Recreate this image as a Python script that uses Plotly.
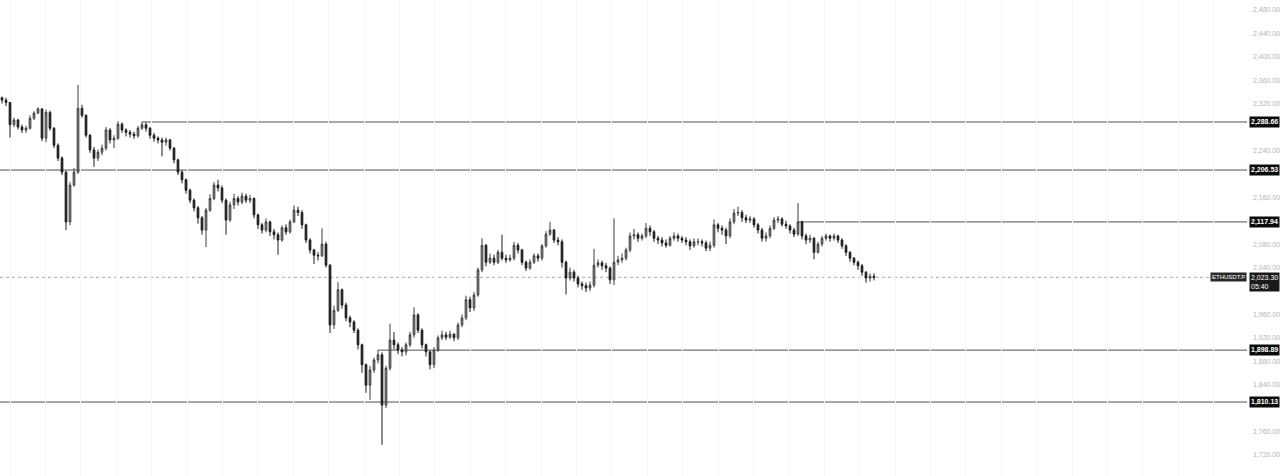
import plotly.graph_objects as go

# ---- data (ETHUSDT.P) ----
closes = [
    2326, 2322, 2284, 2292, 2280, 2275, 2278, 2295, 2304, 2311,
    2261, 2305, 2278, 2249, 2227, 2203, 2118, 2181, 2203, 2312,
    2300, 2266, 2241, 2227, 2237, 2244, 2275, 2258, 2261, 2285,
    2275, 2271, 2268, 2265, 2278, 2284, 2278, 2266, 2261, 2258,
    2254, 2258, 2244, 2224, 2203, 2190, 2172, 2155, 2142, 2125,
    2104, 2138, 2158, 2181, 2176, 2155, 2121, 2147, 2158, 2152,
    2162, 2155, 2158, 2130, 2113, 2104, 2118, 2101, 2096, 2087,
    2108, 2101, 2118, 2138, 2134, 2113, 2087, 2070, 2061, 2060,
    2080, 2044, 1942, 1967, 2002, 1976, 1954, 1947, 1933, 1908,
    1874, 1839, 1865, 1882, 1891, 1805, 1868, 1916, 1908, 1899,
    1896, 1908, 1925, 1959, 1933, 1908, 1896, 1874, 1899, 1920,
    1925, 1921, 1926, 1920, 1942, 1954, 1985, 1971, 1993, 2036,
    2078, 2049, 2056, 2049, 2066, 2056, 2053, 2056, 2078, 2070,
    2049, 2039, 2049, 2060, 2056, 2077, 2097, 2104, 2087, 2084,
    2049, 2022, 2032, 2022, 2012, 2009, 2005, 2010, 2044, 2048,
    2043, 2039, 2019, 2049, 2053, 2056, 2070, 2094, 2096, 2090,
    2094, 2107, 2101, 2090, 2087, 2082, 2078, 2090, 2094, 2090,
    2087, 2084, 2077, 2084, 2084, 2082, 2073, 2078, 2113, 2107,
    2104, 2094, 2118, 2133, 2134, 2125, 2121, 2123, 2113, 2104,
    2090, 2094, 2107, 2121, 2123, 2114, 2111, 2104, 2097, 2118,
    2094, 2087, 2090, 2066, 2080, 2090, 2094, 2090, 2094, 2087,
    2077, 2066, 2056, 2049, 2043, 2032, 2022, 2025, 2023.30,
]
highs = [
    2332, 2330, 2322, 2296, 2294, 2284, 2282, 2300, 2307, 2314,
    2312, 2310, 2308, 2280, 2252, 2230, 2205, 2186, 2210, 2352,
    2318, 2302, 2268, 2246, 2242, 2250, 2280, 2278, 2266, 2290,
    2288, 2278, 2275, 2272, 2282, 2288.66, 2288, 2280, 2270, 2264,
    2262, 2262, 2260, 2246, 2226, 2206, 2192, 2175, 2158, 2145,
    2128, 2142, 2165, 2186, 2190, 2180, 2158, 2152, 2166, 2162,
    2168, 2166, 2164, 2160, 2132, 2116, 2124, 2120, 2106, 2100,
    2112, 2114, 2122, 2146, 2144, 2138, 2115, 2090, 2072, 2066,
    2107, 2084, 2046, 1975, 2015, 2004, 1980, 1958, 1950, 1936,
    1910, 1876, 1872, 1886, 1898.89, 1895, 1872, 1944, 1930, 1912,
    1904, 1912, 1930, 1972, 1962, 1936, 1910, 1898, 1904, 1924,
    1932, 1930, 1932, 1928, 1946, 1960, 1992, 1990, 1998, 2040,
    2090, 2080, 2064, 2062, 2070, 2096, 2062, 2062, 2084, 2082,
    2072, 2052, 2054, 2064, 2064, 2080, 2102, 2118, 2106, 2092,
    2088, 2052, 2040, 2036, 2026, 2016, 2014, 2016, 2072, 2054,
    2052, 2048, 2042, 2124, 2060, 2064, 2074, 2100, 2106, 2100,
    2098, 2116, 2112, 2104, 2094, 2092, 2088, 2094, 2100, 2098,
    2094, 2092, 2088, 2090, 2090, 2088, 2086, 2084, 2122, 2116,
    2112, 2108, 2124, 2140, 2144, 2138, 2130, 2128, 2126, 2116,
    2108, 2100, 2112, 2126, 2128, 2126, 2120, 2114, 2108, 2150,
    2120, 2098, 2096, 2092, 2084, 2094, 2098, 2096, 2098, 2096,
    2090, 2080, 2068, 2058, 2052, 2046, 2034, 2030, 2030,
]
lows = [
    2320, 2316, 2262, 2280, 2276, 2270, 2270, 2276, 2292, 2302,
    2256, 2254, 2274, 2244, 2222, 2198, 2104, 2112, 2178, 2200,
    2296, 2262, 2236, 2212, 2222, 2232, 2240, 2252, 2244, 2258,
    2270, 2264, 2262, 2260, 2262, 2275, 2272, 2260, 2255, 2252,
    2230, 2248, 2240, 2218, 2198, 2184, 2166, 2150, 2136, 2115,
    2096, 2075, 2135, 2155, 2170, 2150, 2096, 2118, 2140, 2146,
    2148, 2150, 2150, 2124, 2106, 2098, 2100, 2094, 2088, 2062,
    2084, 2096, 2098, 2116, 2128, 2106, 2082, 2064, 2046, 2052,
    2058, 2040, 1928, 1935, 1964, 1970, 1948, 1938, 1928, 1900,
    1860, 1826, 1814, 1860, 1876, 1737, 1800, 1864, 1900, 1892,
    1888, 1890, 1904, 1920, 1928, 1902, 1888, 1866, 1868, 1896,
    1916, 1916, 1918, 1914, 1916, 1938, 1950, 1964, 1966, 1990,
    2032, 2042, 2046, 2044, 2046, 2052, 2048, 2050, 2052, 2064,
    2044, 2034, 2036, 2046, 2050, 2052, 2074, 2094, 2082, 2078,
    2040, 1994, 2018, 2016, 2006, 2002, 1998, 2000, 2006, 2040,
    2036, 2032, 2012, 2010, 2044, 2048, 2052, 2066, 2088, 2084,
    2086, 2090, 2094, 2084, 2080, 2076, 2074, 2076, 2086, 2084,
    2082, 2078, 2070, 2074, 2078, 2076, 2068, 2068, 2074, 2100,
    2096, 2080, 2090, 2114, 2128, 2118, 2116, 2116, 2108, 2098,
    2084, 2084, 2090, 2104, 2116, 2110, 2106, 2098, 2092, 2094,
    2088, 2080, 2082, 2054, 2064, 2076, 2086, 2084, 2086, 2082,
    2072, 2060, 2050, 2044, 2036, 2026, 2014, 2016, 2018,
]
first_open = 2330
opens = [first_open] + closes[:-1]   # each bar opens at the prior close

# horizontal levels and the candle index where each starts
level_prices = [2288.66, 2206.53, 2117.94, 1898.89, 1810.13]
level_start = [35, None, 199, 94, None]

axis_ticks = [2480, 2440, 2400, 2360, 2320, 2240, 2160, 2080, 2040,
              1960, 1920, 1880, 1840, 1760, 1720]
symbol = "ETHUSDT.P"
countdown = "05:40"

N = len(closes)
x = list(range(N))

X0, X1 = -0.5, 311.25
Y0, Y1 = 1683.8, 2497.1

fig = go.Figure()
fig.add_trace(go.Candlestick(
    x=x, open=opens, high=highs, low=lows, close=closes,
    increasing=dict(line=dict(color="#3c3c3c", width=1), fillcolor="#9c9c9c"),
    decreasing=dict(line=dict(color="#1c1c1c", width=1), fillcolor="#1c1c1c"),
    whiskerwidth=0, showlegend=False, hoverinfo="skip",
))

shapes = []
for p, s in zip(level_prices, level_start):
    shapes.append(dict(type="line", xref="x", yref="y",
                       x0=(X0 if s is None else s), x1=X1, y0=p, y1=p,
                       line=dict(color="#505050", width=1), layer="below"))
last = closes[-1]
shapes.append(dict(type="line", xref="x", yref="y", x0=X0, x1=X1, y0=last, y1=last,
                   line=dict(color="#a8a8a8", width=1, dash="dot"), layer="below"))

annotations = []
for p in level_prices:
    annotations.append(dict(xref="paper", yref="y", x=1, y=p, xanchor="left", yanchor="middle",
                            xshift=2, text=f"<b>{p:,.2f}</b>", showarrow=False,
                            font=dict(color="#ffffff", size=7, family="Liberation Sans"),
                            bgcolor="#0a0a0a", borderpad=1))
annotations.append(dict(xref="paper", yref="y", x=1, y=last, xanchor="left", yanchor="top",
                        xshift=2, yshift=5, text=f"{last:,.2f}<br>{countdown}", showarrow=False,
                        align="left",
                        font=dict(color="#ffffff", size=7, family="Liberation Sans"),
                        bgcolor="#1a1a1a", borderpad=1))
annotations.append(dict(xref="paper", yref="y", x=1, y=last, xanchor="right", yanchor="middle",
                        xshift=0, text=symbol, showarrow=False,
                        font=dict(color="#ffffff", size=6, family="Liberation Sans"),
                        bgcolor="#2a2a2a", borderpad=1))

fig.update_layout(
    width=1280, height=476,
    margin=dict(l=0, r=33, t=0, b=0, pad=0),
    paper_bgcolor="#ffffff", plot_bgcolor="#ffffff",
    shapes=shapes, annotations=annotations,
    boxgap=0.4,
    xaxis=dict(range=[X0, X1], showticklabels=False, showgrid=True,
               gridcolor="#f6f6f6", gridwidth=1, tick0=2.0, dtick=8.85,
               zeroline=False, rangeslider=dict(visible=False), showline=False, fixedrange=True),
    yaxis=dict(range=[Y0, Y1], side="right", tickvals=axis_ticks, tickformat=",.2f",
               showgrid=False, zeroline=False, showline=False, ticks="",
               ticklabelstandoff=5, automargin=False,
               tickfont=dict(color="#b4b4b4", size=7, family="Liberation Sans"), fixedrange=True),
    font=dict(family="Liberation Sans"),
)

fig.write_html(
    "out.html",
    config={"displayModeBar": False},
    post_script="document.body.style.margin='0';document.body.style.padding='0';document.documentElement.style.overflow='hidden';",
)
